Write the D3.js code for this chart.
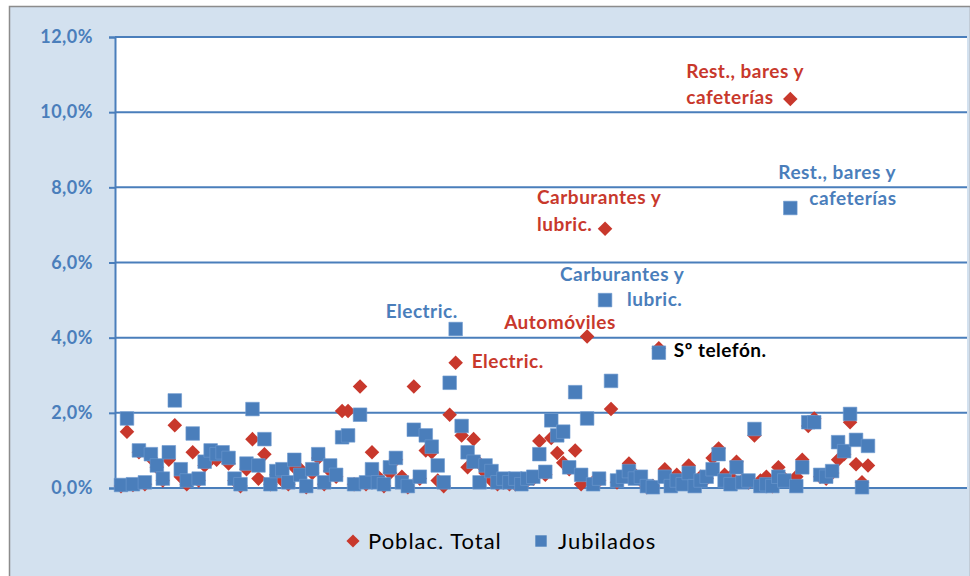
<!DOCTYPE html>
<html>
<head>
<meta charset="utf-8">
<script src="https://cdnjs.cloudflare.com/ajax/libs/d3/7.8.5/d3.min.js"></script>
<style>
  html, body { margin: 0; padding: 0; background: #ffffff; }
  svg { display: block; }
  text { font-family: Lato, "Open Sans", sans-serif; }
</style>
</head>
<body>
<svg id="chart" width="970" height="576"></svg>
<script>
// Share of spending by sector (%), total population vs. retired people
const poblacTotal = [
  0.05, 1.50, 0.08, 0.95, 0.10, 0.80, 0.55, 0.20, 0.75, 1.67,
  0.30, 0.10, 0.95, 0.20, 0.60, 0.75, 0.75, 0.85, 0.65, 0.20,
  0.05, 0.50, 1.30, 0.25, 0.90, 0.10, 0.35, 0.20, 0.10, 0.55,
  0.50, 0.02, 0.40, 0.80, 0.10, 0.45, 0.30, 2.05, 2.05, 0.10,
  2.70, 0.10, 0.95, 0.30, 0.05, 0.40, 0.75, 0.30, 0.02, 2.70,
  0.25, 1.00, 0.95, 0.20, 0.05, 1.95, 3.33, 1.40, 0.55, 1.30,
  0.65, 0.40, 0.20, 0.10, 0.15, 0.10, 0.10, 0.15, 0.20, 0.25,
  1.25, 0.35, 1.33, 0.93, 0.67, 0.50, 1.00, 0.10, 4.03, 0.15,
  0.20, 6.90, 2.10, 0.15, 0.30, 0.65, 0.35, 0.20, 0.02, 0.05,
  3.72, 0.50, 0.15, 0.35, 0.20, 0.60, 0.10, 0.30, 0.25, 0.80,
  1.05, 0.35, 0.30, 0.70, 0.20, 0.15, 1.40, 0.20, 0.30, 0.05,
  0.55, 0.25, 10.35, 0.30, 0.75, 1.65, 1.85, 0.30, 0.25, 0.40,
  0.75, 0.90, 1.75, 0.63, 0.15, 0.60
];
const jubilados = [
  0.08, 1.85, 0.10, 1.00, 0.15, 0.90, 0.60, 0.25, 0.95, 2.33,
  0.50, 0.20, 1.45, 0.25, 0.70, 1.00, 0.90, 0.95, 0.80, 0.25,
  0.10, 0.65, 2.10, 0.60, 1.30, 0.10, 0.45, 0.50, 0.15, 0.75,
  0.35, 0.05, 0.50, 0.90, 0.15, 0.60, 0.35, 1.35, 1.40, 0.10,
  1.95, 0.15, 0.50, 0.15, 0.10, 0.55, 0.80, 0.15, 0.05, 1.55,
  0.30, 1.40, 1.10, 0.60, 0.15, 2.80, 4.23, 1.65, 0.95, 0.70,
  0.15, 0.60, 0.45, 0.15, 0.25, 0.15, 0.25, 0.10, 0.25, 0.30,
  0.90, 0.43, 1.80, 1.40, 1.50, 0.55, 2.55, 0.35, 1.85, 0.10,
  0.25, 5.00, 2.85, 0.20, 0.30, 0.45, 0.25, 0.30, 0.05, 0.02,
  3.60, 0.30, 0.05, 0.20, 0.10, 0.40, 0.05, 0.20, 0.30, 0.50,
  0.90, 0.20, 0.10, 0.55, 0.15, 0.20, 1.57, 0.05, 0.10, 0.05,
  0.30, 0.20, 7.45, 0.05, 0.55, 1.75, 1.75, 0.35, 0.30, 0.45,
  1.22, 0.98, 1.97, 1.28, 0.02, 1.12
];
const categories = d3.range(poblacTotal.length);
const yTicks = [0, 2, 4, 6, 8, 10, 12];
const seriesNames = ["Poblac. Total", "Jubilados"];

// Named sectors that carry a text label (category index, series, text lines)
const annotations = [
  { cat: 112, series: 0, lines: ["Rest., bares y", "cafeterías"] },
  { cat: 112, series: 1, lines: ["Rest., bares y", "cafeterías"] },
  { cat: 81,  series: 0, lines: ["Carburantes y", "lubric."] },
  { cat: 81,  series: 1, lines: ["Carburantes y", "lubric."] },
  { cat: 56,  series: 1, lines: ["Electric."] },
  { cat: 78,  series: 0, lines: ["Automóviles"] },
  { cat: 56,  series: 0, lines: ["Electric."] },
  { cat: 90,  series: 0, lines: ["Sº telefón."] }
];

// ---- layout ----
const W = 970, H = 576;
const plot = { left: 115, top: 37, right: 967, bottom: 488 };
const red = "#c8382c", blue = "#4a7ebb", axisBlue = "#4a7ebb";

const svg = d3.select("#chart");

// chart background and border
svg.append("rect").attr("x", 0).attr("y", 0).attr("width", W).attr("height", H).attr("fill", "#ffffff");
svg.append("rect").attr("x", 9.5).attr("y", 6.5).attr("width", W - 9).attr("height", H - 5)
  .attr("fill", "#d3e1ef").attr("stroke", "#8c8c8c").attr("stroke-width", 1.5);

// plot area
svg.append("rect").attr("x", plot.left).attr("y", plot.top)
  .attr("width", plot.right - plot.left).attr("height", plot.bottom - plot.top)
  .attr("fill", "#ffffff");

const y = d3.scaleLinear().domain([0, 12]).range([plot.bottom, plot.top]);
const x = d3.scalePoint().domain(categories).range([121, 868]);

// horizontal gridlines
svg.append("g").selectAll("line").data(yTicks.filter(d => d > 0)).join("line")
  .attr("x1", plot.left).attr("x2", plot.right)
  .attr("y1", d => y(d)).attr("y2", d => y(d))
  .attr("stroke", axisBlue).attr("stroke-width", 2);

// y axis
const yAxis = d3.axisLeft(y).tickValues(yTicks).tickSize(6).tickPadding(16)
  .tickFormat(d => d3.format(".1f")(d).replace(".", ",") + "%");
const gy = svg.append("g").attr("transform", `translate(${plot.left},0)`).call(yAxis);
gy.select(".domain").attr("stroke", axisBlue).attr("stroke-width", 2);
gy.selectAll(".tick line").attr("stroke", axisBlue).attr("stroke-width", 2);
gy.selectAll(".tick text").attr("fill", axisBlue)
  .style("font-family", "Lato, sans-serif").style("font-size", "18px")
  .style("font-weight", "bold").style("letter-spacing", "0.5px");

// x axis line
svg.append("line").attr("x1", plot.left).attr("x2", plot.right)
  .attr("y1", plot.bottom).attr("y2", plot.bottom)
  .attr("stroke", axisBlue).attr("stroke-width", 2);

// markers
const diamond = d3.symbol().type(d3.symbolDiamond2).size(135);
const square = d3.symbol().type(d3.symbolSquare).size(185);

svg.append("g").selectAll("path").data(poblacTotal).join("path")
  .attr("d", diamond)
  .attr("transform", (d, i) => `translate(${x(categories[i])},${y(d)})`)
  .attr("fill", red);

svg.append("g").selectAll("path").data(jubilados).join("path")
  .attr("d", square)
  .attr("transform", (d, i) => `translate(${x(categories[i])},${y(d)})`)
  .attr("fill", blue).attr("stroke", "#6f9bd0").attr("stroke-width", 0.6);

// label placement relative to each marker: [dx, dy] per line
const labelOffsets = [
  [[-104, -21], [-104, 5]],
  [[-12, -29], [19, -3]],
  [[-68, -25], [-68, 2]],
  [[-45, -19], [22, 6]],
  [[-70, -11]],
  [[-83, -8]],
  [[16, 5]],
  [[15, 9]]
];
const labelColors = [red, blue, red, blue, blue, red, red, "#000000"];
const seriesValues = [poblacTotal, jubilados];

annotations.forEach((a, k) => {
  const px = x(categories[a.cat]);
  const py = y(seriesValues[a.series][a.cat]);
  a.lines.forEach((line, j) => {
    svg.append("text")
      .attr("x", px + labelOffsets[k][j][0])
      .attr("y", py + labelOffsets[k][j][1])
      .attr("fill", labelColors[k])
      .style("font-size", "19px").style("font-weight", "bold")
      .style("letter-spacing", "0.5px")
      .text(line);
  });
});

// legend
const legend = svg.append("g");
legend.append("path").attr("d", d3.symbol().type(d3.symbolDiamond2).size(110))
  .attr("transform", "translate(353,541)").attr("fill", red);
legend.append("text").attr("x", 368).attr("y", 549).attr("fill", "#000")
  .style("font-size", "22px").style("letter-spacing", "1px").text(seriesNames[0]);
legend.append("path").attr("d", d3.symbol().type(d3.symbolSquare).size(130))
  .attr("transform", "translate(541,541)").attr("fill", blue);
legend.append("text").attr("x", 558).attr("y", 549).attr("fill", "#000")
  .style("font-size", "22px").style("letter-spacing", "1px").text(seriesNames[1]);
</script>
</body>
</html>
